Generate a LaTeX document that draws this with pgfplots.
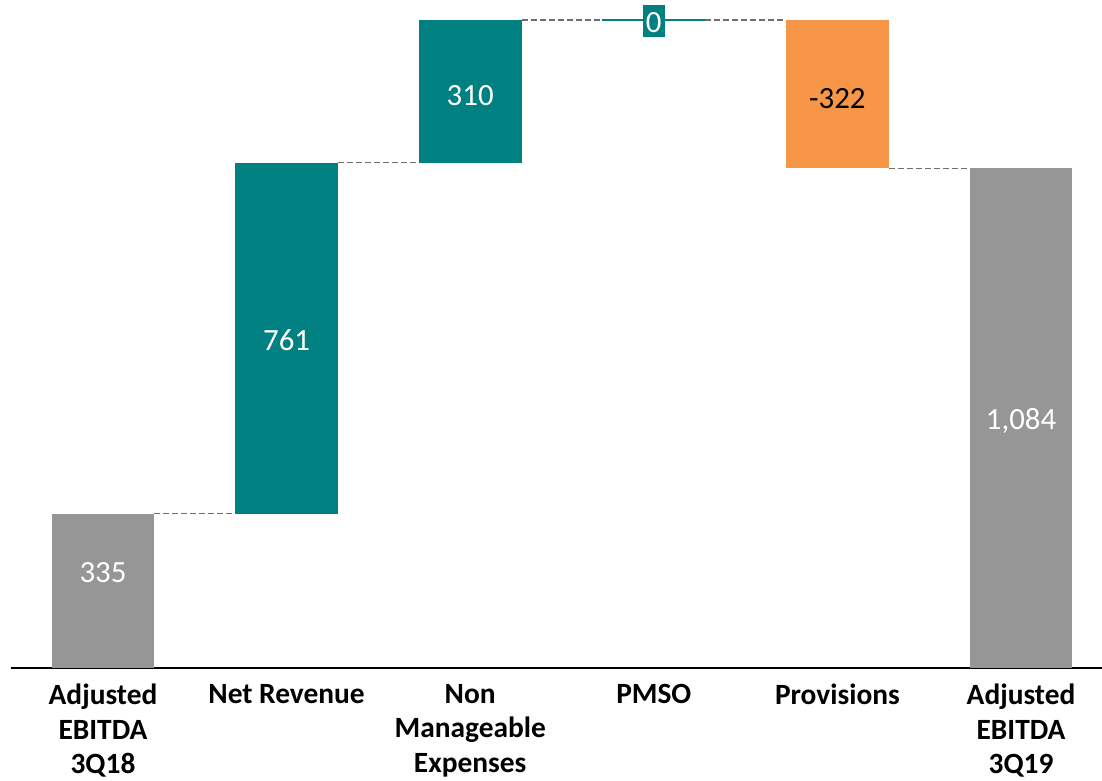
\documentclass[border=0pt]{standalone}
\usepackage{pgfplots}
\pgfplotsset{compat=1.18}
\usepackage{fontspec}
\setmainfont{Carlito}
\definecolor{tealbar}{RGB}{0,128,128}
\definecolor{graybar}{RGB}{150,150,150}
\definecolor{orangebar}{RGB}{247,150,70}
\definecolor{connector}{RGB}{110,110,110}
\begin{document}
\begin{tikzpicture}[x=1bp,y=1bp]
\begin{axis}[
  scale only axis,
  width=1091bp, height=648bp,
  xmin=-0.501, xmax=5.441,
  ymin=0, ymax=1406,
  axis x line=bottom,
  axis y line=none,
  axis line style={-, line width=2bp, black},
  xtick={0,1,2,3,4,5},
  xticklabels={{Adjusted\\EBITDA\\3Q18},{Net Revenue},{Non\\Manageable\\Expenses},{PMSO},{Provisions},{Adjusted\\EBITDA\\3Q19}},
  major tick length=0pt,
  xticklabel style={font=\bfseries\fontsize{29.5}{34.5}\selectfont, align=center, anchor=north, inner sep=0pt, yshift=-16bp},
  clip=false,
]
% bars
\addplot[fill=graybar, draw=none] coordinates {(-0.28,0) (0.28,0) (0.28,335) (-0.28,335)} -- cycle;
\addplot[fill=tealbar, draw=none] coordinates {(0.72,335) (1.28,335) (1.28,1096) (0.72,1096)} -- cycle;
\addplot[fill=tealbar, draw=none] coordinates {(1.72,1096) (2.28,1096) (2.28,1406) (1.72,1406)} -- cycle;
\addplot[draw=tealbar, line width=2bp] coordinates {(2.72,1406) (3.28,1406)};
\addplot[fill=orangebar, draw=none] coordinates {(3.72,1406) (4.28,1406) (4.28,1084) (3.72,1084)} -- cycle;
\addplot[fill=graybar, draw=none] coordinates {(4.72,0) (5.28,0) (5.28,1084) (4.72,1084)} -- cycle;
% connectors
\addplot[connector, line width=1.2bp, dash pattern=on 6bp off 3bp] coordinates {(0.28,335) (0.72,335)};
\addplot[connector, line width=1.2bp, dash pattern=on 6bp off 3bp] coordinates {(1.28,1096) (1.72,1096)};
\addplot[connector, line width=1.2bp, dash pattern=on 6bp off 3bp] coordinates {(2.28,1406) (2.72,1406)};
\addplot[connector, line width=1.2bp, dash pattern=on 6bp off 3bp] coordinates {(3.28,1406) (3.72,1406)};
\addplot[connector, line width=1.2bp, dash pattern=on 6bp off 3bp] coordinates {(4.28,1084) (4.72,1084)};
% labels (white)
\addplot[draw=none, mark=none, nodes near coords, point meta=explicit symbolic,
  nodes near coords style={anchor=center, text=white, font=\fontsize{31}{36}\selectfont}]
  coordinates {(0,206)[335] (1,711)[761] (2,1241)[310] (5,536)[{1,084}]};
% label (black)
\addplot[draw=none, mark=none, nodes near coords, point meta=explicit symbolic,
  nodes near coords style={anchor=center, text=black, font=\fontsize{31}{36}\selectfont}]
  coordinates {(4,1236)[-322]};
% zero label
\addplot[draw=none, mark=none, nodes near coords, point meta=explicit symbolic,
  nodes near coords style={anchor=center, text=white, fill=tealbar, inner xsep=3bp, inner ysep=0pt, text height=28bp, text depth=4bp, font=\fontsize{31}{36}\selectfont}]
  coordinates {(3,1404)[0]};
\end{axis}
\pgfresetboundingbox
\path (current axis.south west) ++(-11bp,-113bp) rectangle ++(1102bp,781bp);
\end{tikzpicture}
\end{document}
